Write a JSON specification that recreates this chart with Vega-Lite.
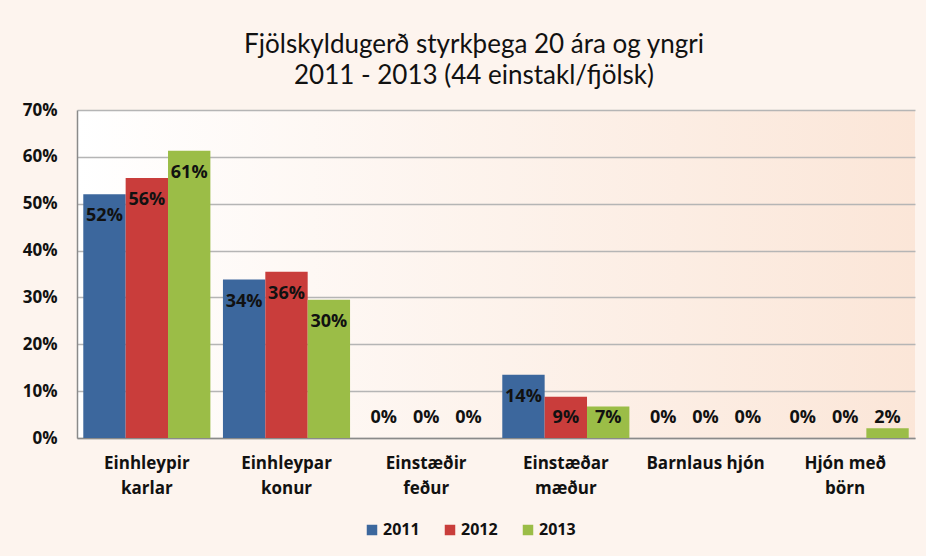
{
  "$schema": "https://vega.github.io/schema/vega-lite/v6.json",
  "width": 838,
  "height": 328,
  "autosize": {"type": "none"},
  "padding": {"left": 77, "top": 110, "right": 11, "bottom": 118},
  "background": "#fdf4ee",
  "title": {
    "text": ["Fjölskyldugerð styrkþega 20 ára og yngri", "2011 - 2013  (44 einstakl/fjölsk)"],
    "font": "Lato",
    "fontSize": 26,
    "fontWeight": "normal",
    "color": "#111111",
    "anchor": "middle",
    "lineHeight": 31,
    "offset": 12,
    "dx": -22
  },
  "config": {
    "view": {"stroke": null, "fill": {"gradient": "linear", "x1": 0, "y1": 0, "x2": 1, "y2": 0, "stops": [{"offset": 0, "color": "#ffffff"}, {"offset": 1, "color": "#fbe6d8"}]}},
    "axis": {"labelFont": "Open Sans", "labelFontWeight": "bold", "labelColor": "#111111"}
  },
  "data": {
    "values": [
      {"kind": "Einhleypir karlar", "year": "2011", "value": 0.52},
      {"kind": "Einhleypir karlar", "year": "2012", "value": 0.555},
      {"kind": "Einhleypir karlar", "year": "2013", "value": 0.613},
      {"kind": "Einhleypar konur", "year": "2011", "value": 0.338},
      {"kind": "Einhleypar konur", "year": "2012", "value": 0.355},
      {"kind": "Einhleypar konur", "year": "2013", "value": 0.295},
      {"kind": "Einstæðir feður", "year": "2011", "value": 0},
      {"kind": "Einstæðir feður", "year": "2012", "value": 0},
      {"kind": "Einstæðir feður", "year": "2013", "value": 0},
      {"kind": "Einstæðar mæður", "year": "2011", "value": 0.135},
      {"kind": "Einstæðar mæður", "year": "2012", "value": 0.088},
      {"kind": "Einstæðar mæður", "year": "2013", "value": 0.067},
      {"kind": "Barnlaus hjón", "year": "2011", "value": 0},
      {"kind": "Barnlaus hjón", "year": "2012", "value": 0},
      {"kind": "Barnlaus hjón", "year": "2013", "value": 0},
      {"kind": "Hjón með börn", "year": "2011", "value": 0},
      {"kind": "Hjón með börn", "year": "2012", "value": 0},
      {"kind": "Hjón með börn", "year": "2013", "value": 0.021}
    ]
  },
  "encoding": {
    "x": {
      "field": "kind",
      "type": "nominal",
      "sort": null,
      "scale": {"paddingInner": 0.09, "paddingOuter": 0.045},
      "axis": {
        "title": null,
        "labelAngle": 0,
        "labelExpr": "datum.value == 'Hjón með börn' ? ['Hjón með', 'börn'] : datum.value == 'Barnlaus hjón' ? datum.value : split(datum.value, ' ')",
        "labelFontSize": 17,
        "labelLineHeight": 25,
        "labelPadding": 17,
        "ticks": false,
        "domainColor": "#8a8a8a",
        "domainWidth": 1.5
      }
    },
    "xOffset": {"field": "year", "type": "nominal", "scale": {"paddingInner": 0}},
    "color": {
      "field": "year",
      "type": "nominal",
      "scale": {"range": ["#3c679d", "#c93d3b", "#9bbd47"]},
      "legend": {
        "title": null,
        "orient": "none",
        "direction": "horizontal",
        "legendX": 287,
        "legendY": 412,
        "symbolType": "square",
        "symbolSize": 110,
        "symbolStrokeWidth": 0,
        "labelFont": "Open Sans",
        "labelFontWeight": "bold",
        "labelFontSize": 16,
        "labelColor": "#111111",
        "columnPadding": 22,
        "labelOffset": 3
      }
    }
  },
  "layer": [
    {
      "mark": {"type": "bar"},
      "encoding": {
        "y": {
          "field": "value",
          "type": "quantitative",
          "scale": {"domain": [0, 0.7]},
          "axis": {
            "title": null,
            "format": ".0%",
            "values": [0, 0.1, 0.2, 0.3, 0.4, 0.5, 0.6, 0.7],
            "labelFontSize": 17,
            "labelPadding": 20,
            "ticks": false,
            "gridColor": "#b5b5b5",
            "gridWidth": 1.3,
            "domainColor": "#8a8a8a",
            "domainWidth": 1.5
          }
        }
      }
    },
    {
      "transform": [{"calculate": "max(datum.value - 0.047, 0.0425)", "as": "labelY"}],
      "mark": {"type": "text", "font": "Open Sans", "fontWeight": "bold", "fontSize": 18, "baseline": "middle", "align": "center", "color": "#111111"},
      "encoding": {
        "y": {"field": "labelY", "type": "quantitative", "scale": {"domain": [0, 0.7]}},
        "text": {"field": "value", "type": "quantitative", "format": ".0%"},
        "color": {"value": "#111111"}
      }
    }
  ]
}
